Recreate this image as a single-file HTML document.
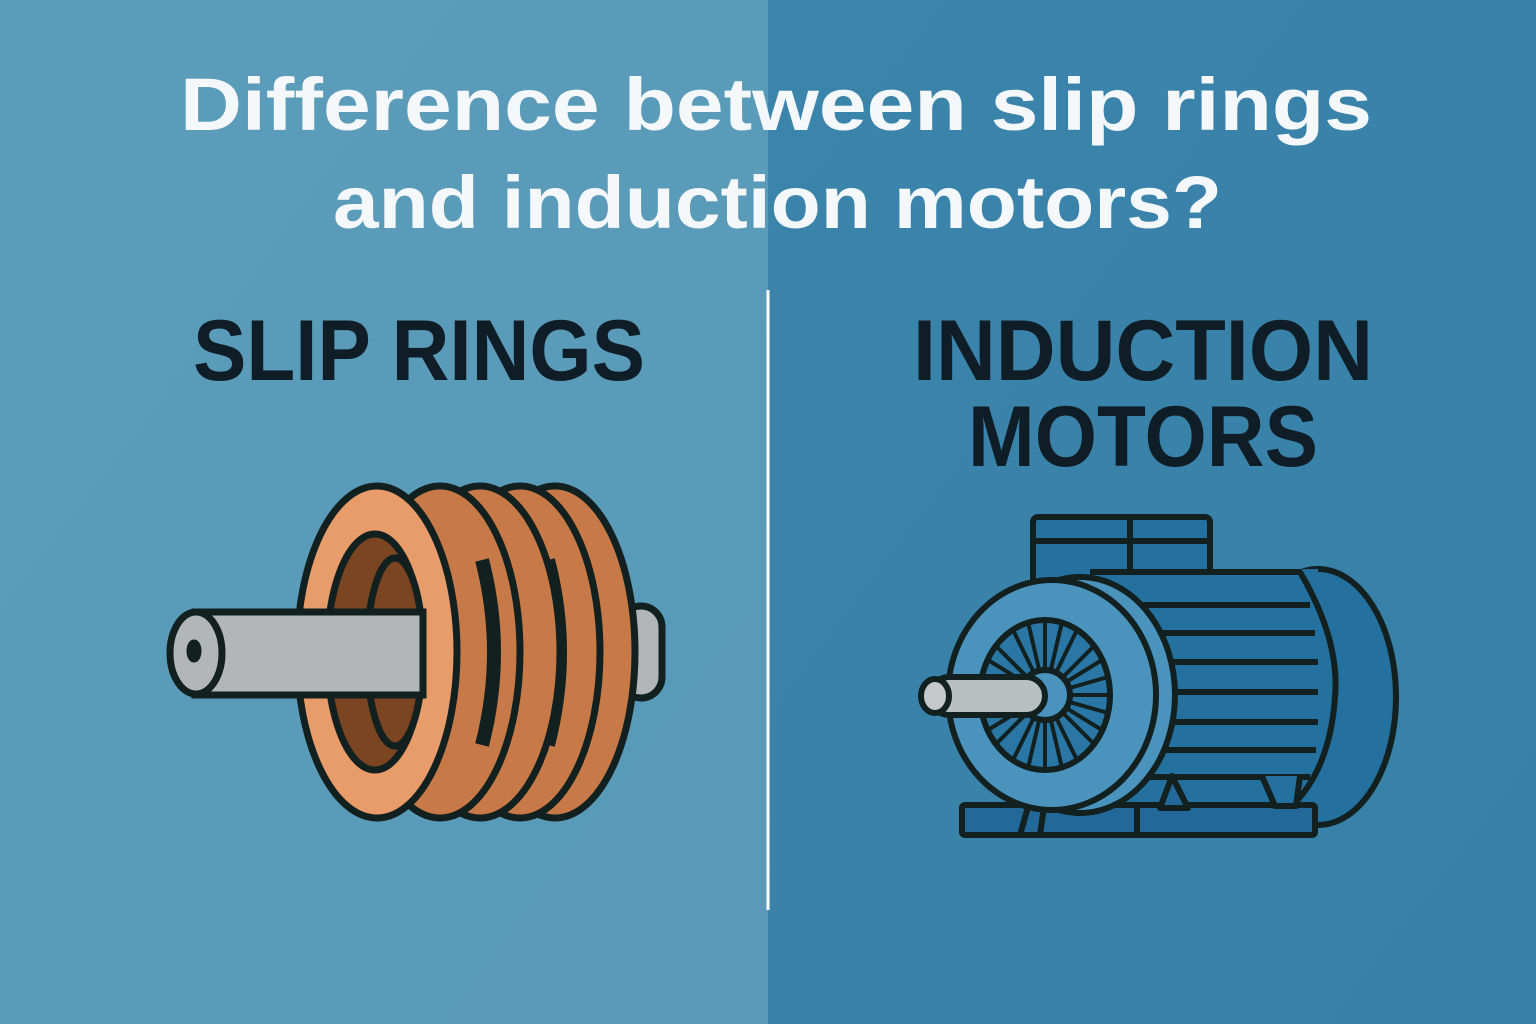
<!DOCTYPE html>
<html><head><meta charset="utf-8"><style>html,body{margin:0;padding:0}svg{display:block}</style></head>
<body>
<svg width="1536" height="1024" viewBox="0 0 1536 1024" xmlns="http://www.w3.org/2000/svg">
<defs>
<linearGradient id="lg" x1="0" y1="0" x2="1" y2="1"><stop offset="0" stop-color="#5a9cbb"/><stop offset="1" stop-color="#5a9ab8"/></linearGradient>
<linearGradient id="rg" x1="0" y1="0" x2="1" y2="1"><stop offset="0" stop-color="#3b84ab"/><stop offset="1" stop-color="#3780a7"/></linearGradient>
</defs>
<rect x="0" y="0" width="768" height="1024" fill="url(#lg)"/>
<rect x="768" y="0" width="768" height="1024" fill="url(#rg)"/>
<line x1="768" y1="290" x2="768" y2="910" stroke="#ffffff" stroke-width="3"/>
<g font-family="Liberation Sans, sans-serif" font-weight="bold">
<text x="180" y="130" font-size="74" fill="#f4f8fb" textLength="1192" lengthAdjust="spacingAndGlyphs">Difference between slip rings</text>
<text x="333" y="228" font-size="74" fill="#f4f8fb" textLength="889" lengthAdjust="spacingAndGlyphs">and induction motors?</text>
<text x="193" y="380" font-size="86" fill="#0f1e26" textLength="452" lengthAdjust="spacingAndGlyphs">SLIP RINGS</text>
<text x="913" y="380" font-size="86" fill="#0f1e26" textLength="460" lengthAdjust="spacingAndGlyphs">INDUCTION</text>
<text x="968" y="466" font-size="86" fill="#0f1e26" textLength="350" lengthAdjust="spacingAndGlyphs">MOTORS</text>
</g>
<!-- slip rings -->
<g stroke="#12201f" stroke-width="7">
<rect x="620" y="606" width="42" height="92" rx="21" fill="#b2b6b8"/>
<ellipse cx="555" cy="652" rx="80" ry="166" fill="#c77a47"/>
<ellipse cx="520" cy="652" rx="80" ry="166" fill="#c77a47"/>
<path d="M548 560 Q572 652 548 745" fill="none" stroke-width="14"/>
<ellipse cx="480" cy="652" rx="80" ry="166" fill="#c77a47"/>
<ellipse cx="440" cy="652" rx="80" ry="166" fill="#c77a47"/>
<path d="M482 560 Q506 652 482 745" fill="none" stroke-width="14"/>
<ellipse cx="377" cy="652" rx="80" ry="166" fill="#e79c6a"/>
<ellipse cx="375" cy="652" rx="48" ry="118" fill="#7a4520"/>
<ellipse cx="395" cy="652" rx="28" ry="94" fill="#7a4520"/>
<rect x="195" y="612" width="228" height="83" fill="#b2b6b8"/>
<ellipse cx="196" cy="653" rx="26" ry="41" fill="#b2b6b8"/>
<ellipse cx="194" cy="651" rx="4" ry="8" fill="#12201f"/>
</g>
<!-- motor -->
<g stroke="#12201f" stroke-width="6" stroke-linejoin="round">
<rect x="1033" y="517" width="177" height="72" rx="5" fill="#2471a0"/>
<line x1="1033" y1="541" x2="1210" y2="541"/>
<line x1="1130" y1="517" x2="1130" y2="589"/>
<ellipse cx="1318" cy="697" rx="78" ry="128" fill="#2471a0"/>
<path d="M1090 572 L1318 569 L1318 825 L1090 810Z" fill="#2471a0" stroke="none"/>
<path d="M1090 572 L1300 572 Q1340 640 1335 697 Q1330 770 1290 808 L1110 808" fill="#2471a0"/>
<g stroke-width="6">
<line x1="1140" y1="605" x2="1310" y2="605"/>
<line x1="1145" y1="633" x2="1315" y2="633"/>
<line x1="1150" y1="662" x2="1318" y2="662"/>
<line x1="1150" y1="692" x2="1318" y2="692"/>
<line x1="1150" y1="722" x2="1318" y2="722"/>
<line x1="1148" y1="750" x2="1316" y2="750"/>
<line x1="1140" y1="777" x2="1310" y2="777"/>
</g>
<rect x="962" y="805" width="353" height="30" rx="3" fill="#22699a"/>
<line x1="1137" y1="805" x2="1137" y2="835"/>
<path d="M1020 835 L1030 800 L1045 800 L1040 835Z" fill="#22699a"/>
<path d="M1160 808 L1172 776 L1188 808Z" fill="#22699a"/>
<path d="M1262 776 L1275 806 L1296 806 L1300 776" fill="#2471a0"/>
<ellipse cx="1080" cy="695" rx="95" ry="118" fill="#4a93bd"/>
<ellipse cx="1052" cy="695" rx="104" ry="115" fill="#4a93bd"/>
<ellipse cx="1045" cy="695" rx="65" ry="75" fill="#2a76a4"/>
<g stroke-width="4">
<line x1="1045" y1="620" x2="1045" y2="770"/>
<line x1="980" y1="695" x2="1110" y2="695"/>
<line x1="1013" y1="630" x2="1077" y2="760"/>
<line x1="1077" y1="630" x2="1013" y2="760"/>
<line x1="988" y1="660" x2="1102" y2="730"/>
<line x1="1102" y1="660" x2="988" y2="730"/>
<line x1="995" y1="645" x2="1095" y2="745"/>
<line x1="1095" y1="645" x2="995" y2="745"/>
<line x1="1028" y1="622" x2="1062" y2="768"/>
<line x1="1062" y1="622" x2="1028" y2="768"/>
<line x1="982" y1="677" x2="1108" y2="713"/>
<line x1="1108" y1="677" x2="982" y2="713"/>
</g>
<circle cx="1045" cy="695" r="25" fill="#4a93bd"/>
<rect x="930" y="677" width="115" height="38" rx="19" fill="#b9bec0"/>
<ellipse cx="935" cy="696" rx="14" ry="17" fill="#c4c8ca"/>
</g>
</svg>
</body></html>
